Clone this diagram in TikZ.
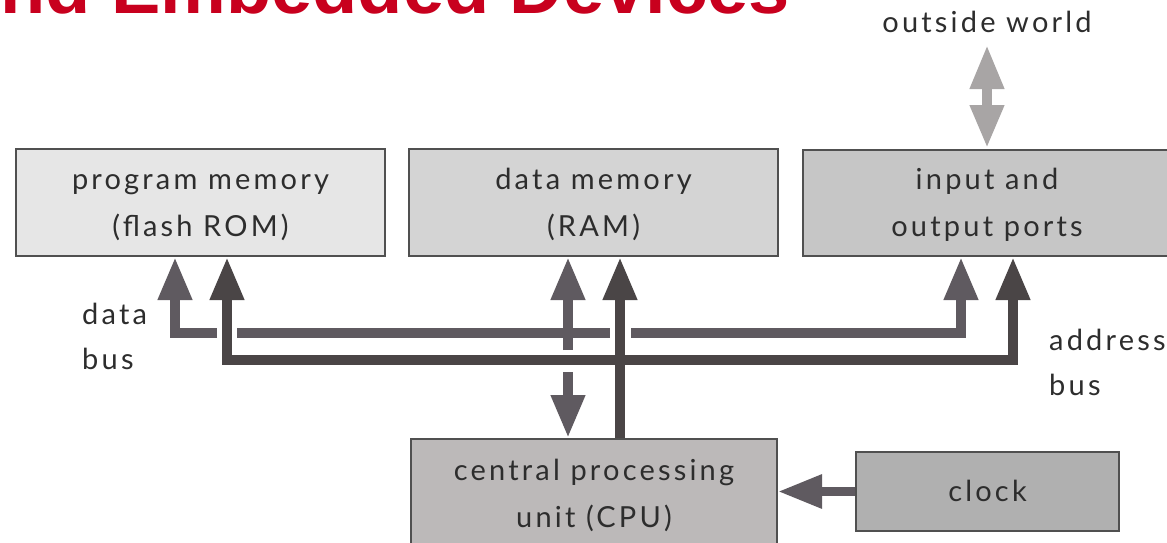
\documentclass[tikz,border=0pt]{standalone}
\usepackage{fontspec}
\setmainfont{Lato}[LetterSpace=11]
\newfontfamily\titlefont{Liberation Sans}
\usetikzlibrary{arrows.meta}
\definecolor{titlered}{RGB}{200,0,30}
\definecolor{txt}{RGB}{45,45,45}
\definecolor{border}{RGB}{80,80,80}
\definecolor{fpm}{RGB}{230,230,230}
\definecolor{fdm}{RGB}{212,212,212}
\definecolor{fio}{RGB}{198,198,198}
\definecolor{fcpu}{RGB}{188,185,185}
\definecolor{fclk}{RGB}{176,176,176}
\definecolor{dbcol}{RGB}{95,90,96}
\definecolor{abcol}{RGB}{74,69,70}
\definecolor{owcol}{RGB}{168,165,165}
\newcommand{\mystrut}{\rule[-6pt]{0pt}{32pt}}
\tikzset{
  tri/.tip={Triangle[width=32pt 0 0,length=43pt 0 0]},
  trio/.tip={Triangle[width=32pt 0 0,length=44pt 0 0]},
  box/.style={draw=border, line width=2pt, inner sep=0pt, align=center,
    text=txt, font=\fontsize{29}{47}\selectfont},
  lbl/.style={inner sep=0pt, align=left, text=txt, font=\fontsize{29}{45}\selectfont},
  bus/.style={line width=10pt, line join=miter, line cap=butt},
  db/.style={bus, draw=dbcol},
  ab/.style={bus, draw=abcol},
  ck/.style={bus, line width=9pt, draw=dbcol},
  ow/.style={bus, draw=owcol},
}
\begin{document}
\begin{tikzpicture}[x=1pt,y=-1pt]
\useasboundingbox (0,0) rectangle (1167,543);
% title
\node[anchor=base west, inner sep=0pt, text=titlered,
  font=\titlefont\bfseries\fontsize{74}{74}\selectfont] (title) at (0,14) {nd Embedded Devices};
% boxes
\node[box, fill=fpm, minimum width=369pt, minimum height=107pt] (pm) at (200.5,202.5)
  {\mystrut program memory\\\mystrut (flash ROM)};
\node[box, fill=fdm, minimum width=369pt, minimum height=107pt] (dm) at (593.5,202.5)
  {\mystrut data memory\\\mystrut (RAM)};
\node[box, fill=fio, minimum width=368pt, minimum height=106pt] (io) at (987,203)
  {\mystrut input and\\\mystrut output ports};
\node[box, fill=fcpu, minimum width=366pt, minimum height=109pt] (cpu) at (594,493.5)
  {\mystrut central processing\\\mystrut unit (CPU)};
\node[box, fill=fclk, minimum width=263pt, minimum height=79pt] (clk) at (987.5,491.5)
  {\mystrut clock};
% labels
\node[anchor=base, inner sep=0pt, text=txt, font=\fontsize{29}{45}\selectfont] (owl) at (987,33) {outside world};
\node[lbl, anchor=west] (dbl) at (82,336.5) {\mystrut data\\\mystrut bus};
\node[lbl, anchor=west] (abl) at (1049,362.5) {\mystrut address\\\mystrut bus};
% coordinates of bus corners and free ends
\coordinate (dL) at (175,333);
\coordinate (dR) at (961,333);
\coordinate (d1) at (217,333);
\coordinate (d2) at (237,333);
\coordinate (d3) at (610,333);
\coordinate (d4) at (631,333);
\coordinate (d5) at (568,350);
\coordinate (d6) at (568,372);
\coordinate (aL) at (227,360);
\coordinate (aR) at (1013,360);
\coordinate (aM) at (620,360);
\coordinate (ow1) at (987,45);
\coordinate (ow2) at (987,148);
% data bus
\draw[db,-tri] (d1) -| (pm.south -| dL);
\draw[db] (d2) -- (d3);
\draw[db,-tri] (d4) -| (io.south -| dR);
\draw[db,-tri] (d5) -- (dm.south -| d5);
\draw[db,-tri] (d6) -- (cpu.north -| d6);
% address bus
\draw[ab,tri-tri] (pm.south -| aL) -- (aL) -- (aR) -- (io.south -| aR);
\draw[ab,-tri] (cpu.north -| aM) -- (dm.south -| aM);
% clock
\draw[ck,-trio] (clk.west) -- (cpu.east |- clk.west);
% outside world
\draw[ow,trio-tri] (ow1) -- (ow2);
\end{tikzpicture}
\end{document}
